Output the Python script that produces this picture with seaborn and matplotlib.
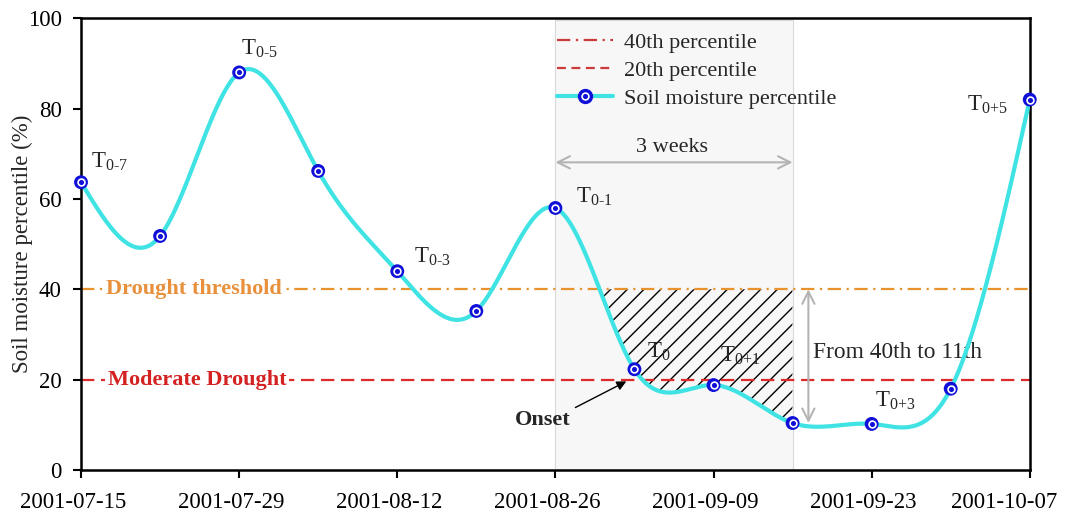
import numpy as np
import pandas as pd
import matplotlib
matplotlib.use("Agg")
import matplotlib.pyplot as plt
import matplotlib.dates as mdates
import matplotlib.transforms as mtransforms
import seaborn as sns
from matplotlib.lines import Line2D
from matplotlib.legend_handler import HandlerTuple

# ---------------- data ----------------
dates = ["2001-07-15", "2001-07-22", "2001-07-29", "2001-08-05", "2001-08-12",
         "2001-08-19", "2001-08-26", "2001-09-02", "2001-09-09", "2001-09-16",
         "2001-09-23", "2001-09-30", "2001-10-07"]
soil_pct = [63.7, 51.8, 88.0, 66.2, 44.0, 35.2, 58.0, 22.3, 18.8, 10.4, 10.2, 18.0, 82.0]
point_subs = ["0-7", "", "0-5", "", "0-3", "", "0-1", "0", "0+1", "", "0+3", "", "0+5"]
tick_labels = ["2001-07-15", "2001-07-29", "2001-08-12", "2001-08-26",
               "2001-09-09", "2001-09-23", "2001-10-07"]
thresholds = [40, 20]
threshold_names = ["Drought threshold", "Moderate Drought"]
legend_labels = ["40th percentile", "20th percentile", "Soil moisture percentile"]
window = ["2001-08-26", "2001-09-16"]
window_label = "3 weeks"
drop_label = "From 40th to 11th"
drop_to = 10.4
onset_label = "Onset"

# ---------------- style ----------------
sns.set_theme(style="ticks")
plt.rcParams["font.family"] = ["Liberation Serif", "DejaVu Serif"]
plt.rcParams["mathtext.fontset"] = "custom"
plt.rcParams["mathtext.rm"] = "Liberation Serif"
plt.rcParams["mathtext.it"] = "Liberation Serif"
plt.rcParams["hatch.linewidth"] = 1.0

CYAN = "#3fe3e3"
BLUE = "#1010d8"
ORANGE = "#e8922e"
RED = "#dd2a2a"
LEG_RED = "#cc3a3a"
GRAY = "#b4b4b4"

x = mdates.date2num(pd.to_datetime(dates))
y = np.asarray(soil_pct, dtype=float)


def natural_spline(xk, yk, xs):
    n = len(xk)
    h = np.diff(xk)
    A = np.zeros((n, n))
    b = np.zeros(n)
    A[0, 0] = 1
    A[-1, -1] = 1
    for i in range(1, n - 1):
        A[i, i - 1] = h[i - 1]
        A[i, i] = 2 * (h[i - 1] + h[i])
        A[i, i + 1] = h[i]
        b[i] = 3 * ((yk[i + 1] - yk[i]) / h[i] - (yk[i] - yk[i - 1]) / h[i - 1])
    c = np.linalg.solve(A, b)
    bb = (yk[1:] - yk[:-1]) / h - h * (2 * c[:-1] + c[1:]) / 3
    d = (c[1:] - c[:-1]) / (3 * h)
    idx = np.clip(np.searchsorted(xk, xs) - 1, 0, n - 2)
    dx = xs - xk[idx]
    return yk[idx] + bb[idx] * dx + c[idx] * dx ** 2 + d[idx] * dx ** 3


xs = np.linspace(x[0], x[-1], 1200)
ys = natural_spline(x, y, xs)

fig = plt.figure(figsize=(10.66, 5.19), dpi=100)
ax = fig.add_axes([0.076, 0.0944, 0.890, 0.8705])

w0, w1 = mdates.date2num(pd.to_datetime(window))

# shaded window
ax.axvspan(w0, w1, ymin=0, ymax=0.995, facecolor="#f7f7f7",
           edgecolor="#d9d9d9", lw=0.8, zorder=0)

# hatch between curve and 40 within window
ax.fill_between(xs, ys, thresholds[0], where=(xs >= w0) & (xs <= w1) & (ys <= thresholds[0]),
                interpolate=True, facecolor="none", edgecolor="black", hatch="//",
                lw=0, zorder=1)

# threshold lines
ax.axhline(thresholds[0], color=ORANGE, lw=1.6, dashes=(6, 2.5, 1, 2.5), zorder=2)
ax.axhline(thresholds[1], color=RED, lw=1.6, dashes=(6, 3), zorder=2)

# threshold names
for thr, name, col, xc in zip(thresholds, threshold_names, ["#e8903c", "#d42222"], [9.96, 10.3]):
    ax.text(x[0] + xc, thr, name, color=col, fontsize=16, fontweight="bold",
            ha="center", va="center", zorder=3,
            bbox=dict(facecolor="white", edgecolor="none", pad=2))

# smooth curve
sns.lineplot(x=xs, y=ys, ax=ax, color=CYAN, lw=3, zorder=4, sort=False)

# markers
sns.scatterplot(x=x, y=y, ax=ax, s=100, color=BLUE, edgecolor="none", zorder=5, clip_on=False)
sns.scatterplot(x=x, y=y, ax=ax, s=24, color=BLUE, edgecolor="white", linewidth=1.2,
                zorder=6, clip_on=False)

# point labels
offsets = {"0-7": (7.2, 10.8), "0-5": (1.0, 13.0), "0-3": (12.2, 5.8), "0-1": (15.0, 3.6),
           "0": (8.9, 8.6), "0+1": (5.0, 16.6), "0+3": (2.2, 12.2), "0+5": (-45.0, -8.0)}
for xi, yi, sub in zip(x, y, point_subs):
    if not sub:
        continue
    ax.annotate(r"T$_{\text{" + sub + "}}$", xy=(xi, yi), xytext=offsets[sub],
                textcoords="offset points", fontsize=16.5, ha="left", va="baseline",
                zorder=7)

# 3 weeks arrow
ax.annotate("", xy=(w0, 68.1), xytext=(w1, 68.1),
            arrowprops=dict(arrowstyle="<->", color=GRAY, lw=1.5,
                            shrinkA=0, shrinkB=0, mutation_scale=22), zorder=3)
ax.text((w0 + w1) / 2 - 0.2, 70.4, window_label, fontsize=16, ha="center", va="baseline")

# vertical drop arrow
xv = w1 + 1.4
ax.annotate("", xy=(xv, drop_to), xytext=(xv, thresholds[0]),
            arrowprops=dict(arrowstyle="<->", color=GRAY, lw=1.5,
                            shrinkA=0, shrinkB=0, mutation_scale=22), zorder=3)
ax.text(xv + 0.4, 24.8, drop_label, fontsize=16.8, ha="left", va="baseline")

# onset
ax.annotate(onset_label, xy=(x[0] + 48.5, 19.9), xytext=(x[0] + 40.9, 11.1),
            fontsize=16, fontweight="bold", ha="center", va="center",
            arrowprops=dict(arrowstyle="-|>", color="black", lw=1.0, mutation_scale=14,
                            relpos=(1.0, 1.0), shrinkA=1, shrinkB=2), zorder=7)

# axes
ax.set_xlim(x[0], x[-1])
ax.set_ylim(0, 100)
tick_pos = mdates.date2num(pd.to_datetime(tick_labels))
ax.set_xticks(tick_pos)
ax.set_xticklabels(tick_labels)
ax.set_yticks([0, 20, 40, 60, 80, 100])
ax.set_xlabel("")
ax.set_ylabel("Soil moisture percentile (%)", fontsize=16.5)
ax.yaxis.set_label_coords(-0.0506, 0.5)
ax.tick_params(axis="both", labelsize=16.5, length=6, width=1.5, direction="out",
               color="black", labelcolor="black")
ax.tick_params(axis="x", pad=10)
ax.tick_params(axis="y", pad=8)
for sp in ax.spines.values():
    sp.set_visible(True)
    sp.set_linewidth(1.8)
    sp.set_color("black")
ax.grid(False)

# shift x tick labels slightly left as in the reference
xlabels = ax.get_xticklabels()
for i, lab in enumerate(xlabels):
    shift = -26 if i == len(xlabels) - 1 else -8
    lab.set_transform(lab.get_transform() +
                      mtransforms.ScaledTranslation(shift / 100, 0, fig.dpi_scale_trans))

# legend
h40 = Line2D([], [], color=LEG_RED, lw=1.6, dashes=(6, 2.5, 1, 2.5))
h20 = Line2D([], [], color=LEG_RED, lw=1.6, dashes=(4, 2.5))
hline = Line2D([], [], color=CYAN, lw=3, marker="o", markersize=10,
               markerfacecolor=BLUE, markeredgecolor=BLUE)
hdot = Line2D([], [], lw=0, marker="o", markersize=4.9,
              markerfacecolor=BLUE, markeredgecolor="white", markeredgewidth=1.2)
ax.legend([h40, h20, (hline, hdot)], legend_labels,
          handler_map={tuple: HandlerTuple(ndivide=1)},
          loc="upper left", bbox_to_anchor=(0.502, 0.968), frameon=False,
          fontsize=16, borderpad=0, borderaxespad=0, handlelength=2.5,
          handletextpad=0.5, labelspacing=0.33)

fig.savefig("out.png", dpi=100)
